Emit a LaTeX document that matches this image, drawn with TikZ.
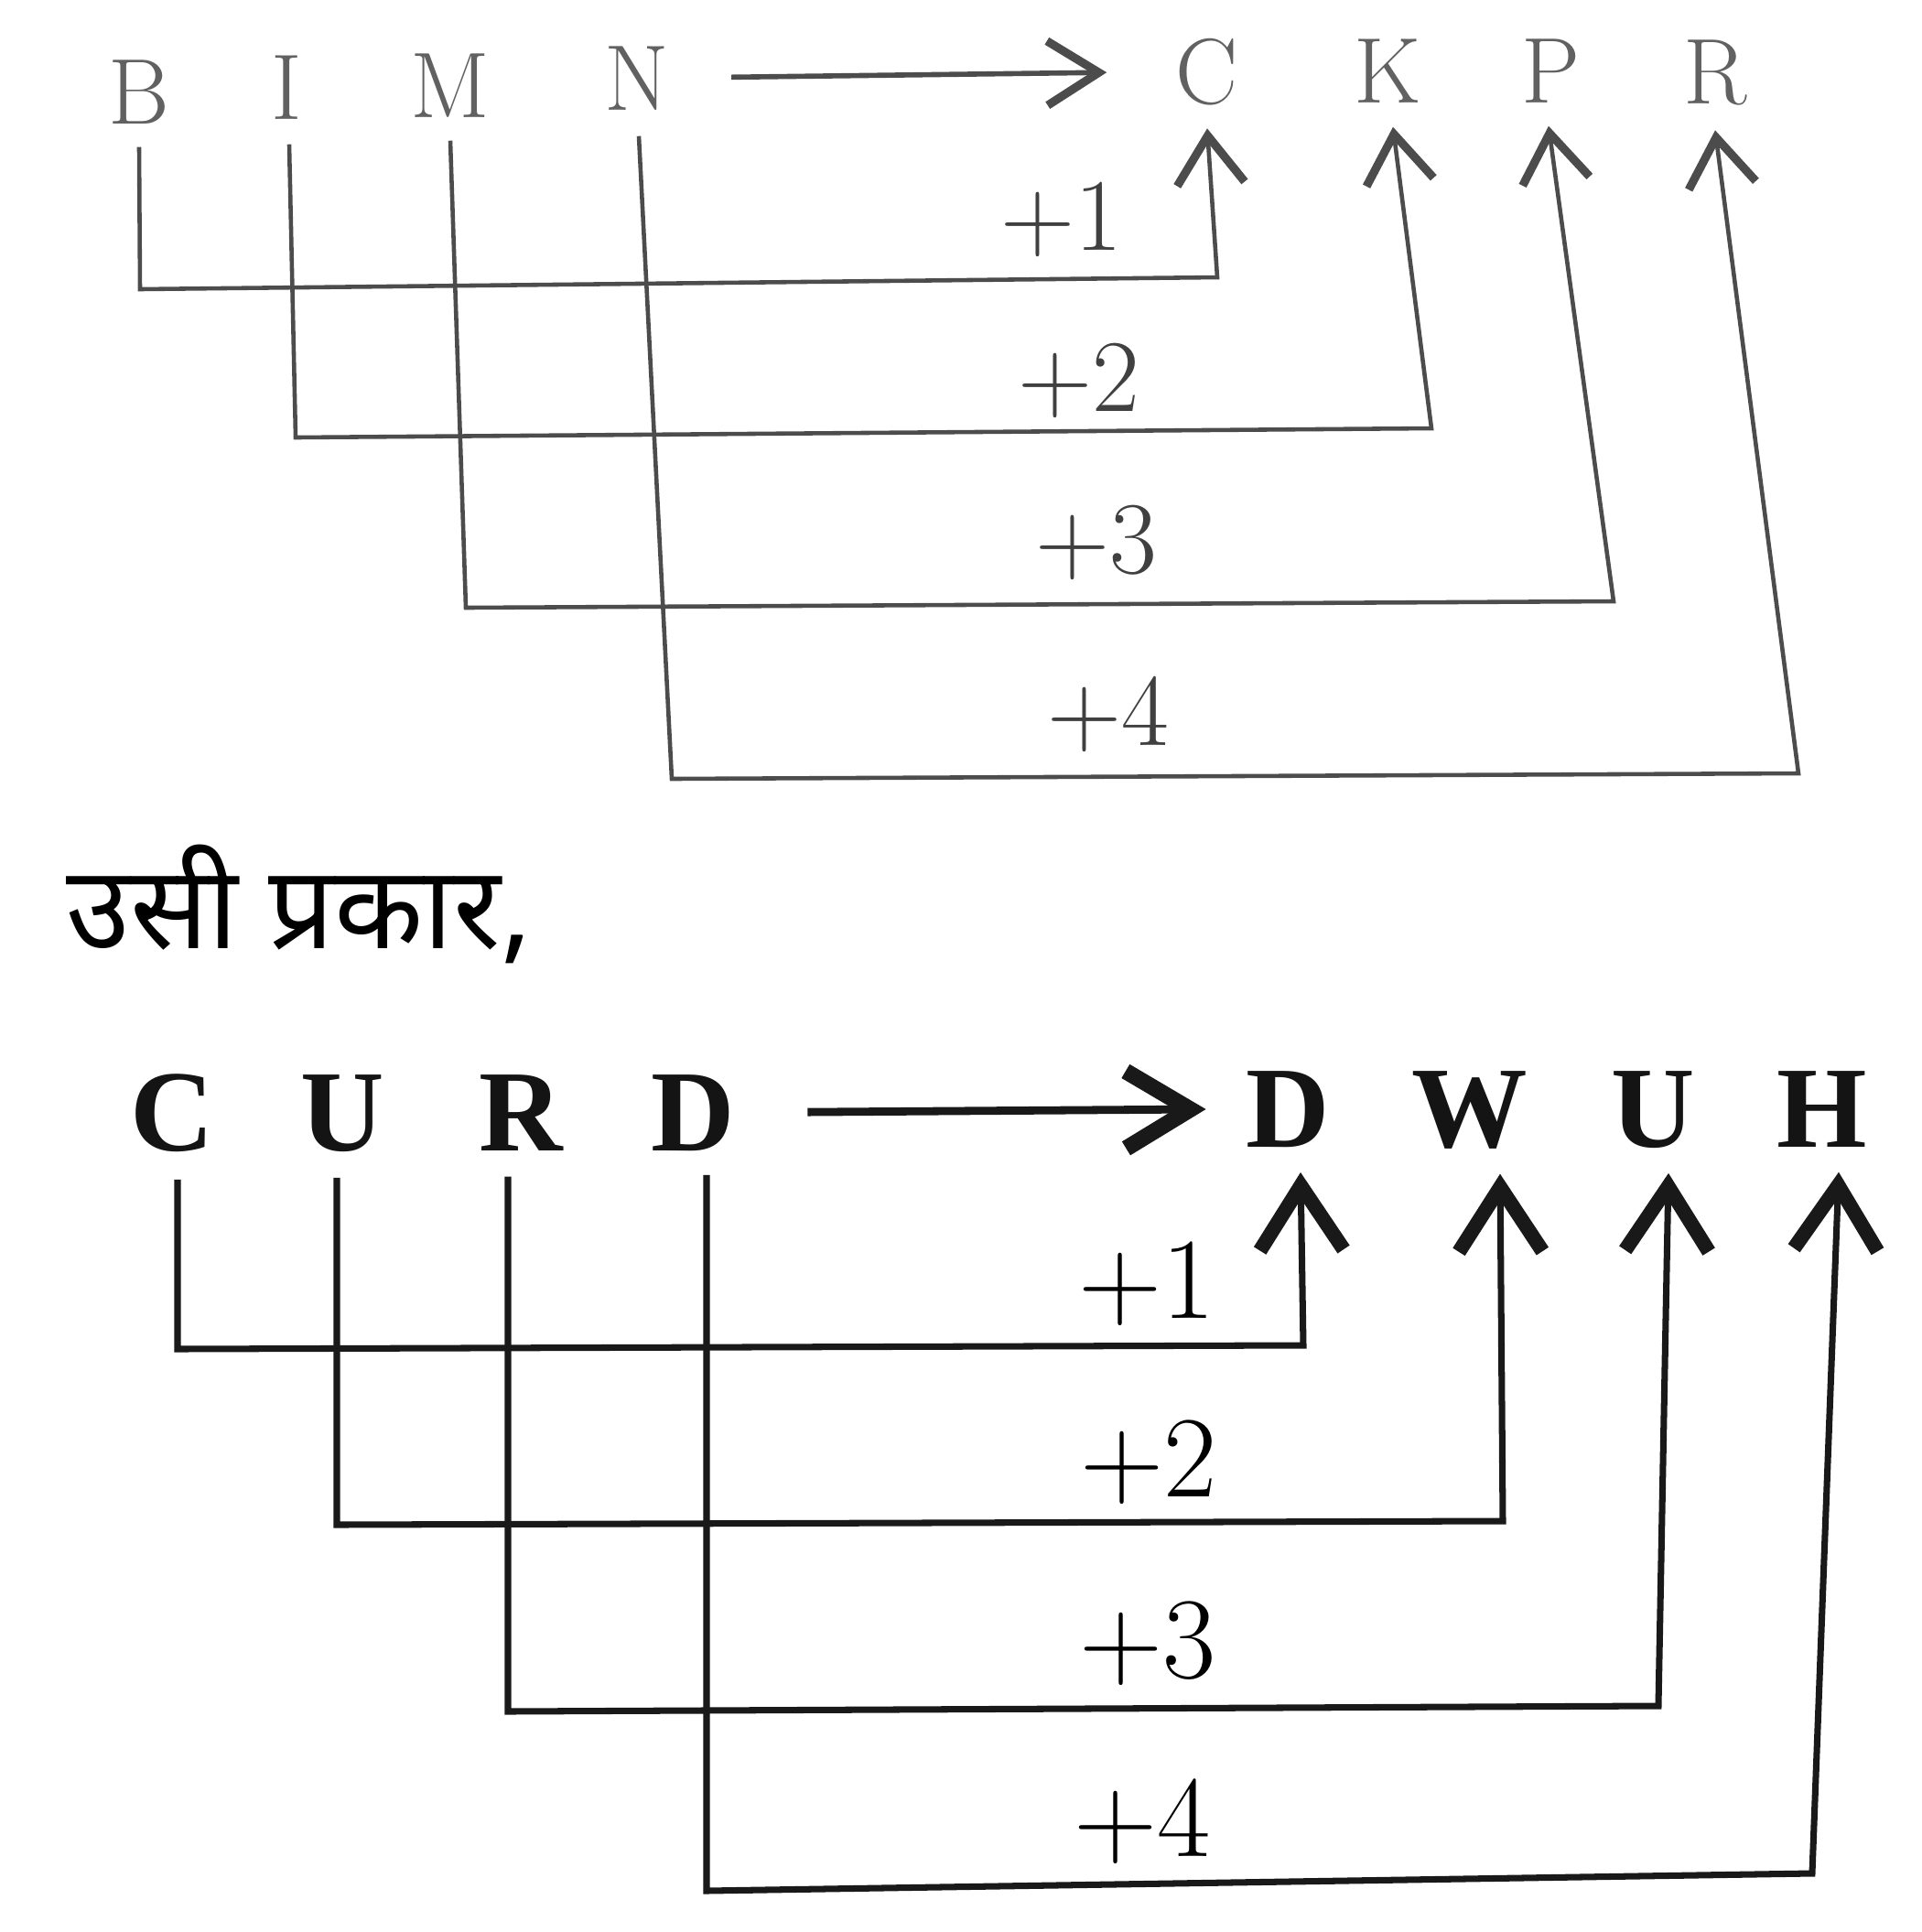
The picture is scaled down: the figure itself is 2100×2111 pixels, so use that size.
\documentclass[tikz,border=0pt]{standalone}
\usepackage{fontspec}
\newfontfamily\libserif{Liberation Serif}
\newfontfamily\hindifont[Script=Devanagari]{Noto Sans}
\usetikzlibrary{arrows.meta}
\begin{document}
\begin{tikzpicture}[x=0.01cm,y=-0.01cm,
  toplet/.style={anchor=base,inner sep=0pt,text=black!62,font=\fontsize{29}{35}\selectfont},
  botlet/.style={anchor=base,inner sep=0pt,text=black!92,font=\libserif\bfseries\fontsize{36}{42}\selectfont},
  toplab/.style={anchor=base,inner sep=0pt,text=black!75,font=\fontsize{32}{38}\selectfont},
  botlab/.style={anchor=base,inner sep=0pt,text=black,font=\fontsize{36}{42}\selectfont},
  topconn/.style={draw=black!70,line width=1.3pt,-{Straight Barb[length=15pt,width=21pt,line width=2.6pt]}},
  toparrow/.style={draw=black!70,line width=1.6pt,-{Straight Barb[length=16pt,width=20pt,line width=2.6pt]}},
  botconn/.style={draw=black!90,line width=2pt,-{Straight Barb[length=20pt,width=26pt,line width=4.5pt]}},
  botarrow/.style={draw=black!90,line width=2.5pt,-{Straight Barb[length=20pt,width=24pt,line width=5pt]}}
]
\useasboundingbox[fill=white] (0,0) rectangle (2100,2111);

% ---------- top part ----------
\node[toplet] (B) at (152,135) {B};
\node[toplet] (I) at (313,130) {I};
\node[toplet] (M) at (492,128) {M};
\node[toplet] (N) at (696,120) {N};
\node[toplet] (C) at (1319,113) {C};
\node[toplet] (K) at (1516,112) {K};
\node[toplet] (P) at (1695,112) {P};
\node[toplet] (R) at (1874,113) {R};

\draw[toparrow,shorten <=0.67cm,shorten >=0.75cm] (N.east) -- (C.west);

\draw[topconn] ([yshift=-0.25cm]B.south) -- (153,316) -- (1330,303) -- ([yshift=-0.25cm]C.south);
\draw[topconn] ([xshift=0.03cm,yshift=-0.27cm]I.south) -- (323,478) -- (1564,468) -- ([xshift=0.06cm,yshift=-0.26cm]K.south);
\draw[topconn] ([yshift=-0.25cm]M.south) -- (509,664) -- (1763,657) -- ([xshift=-0.03cm,yshift=-0.25cm]P.south);
\draw[topconn] ([xshift=0.02cm,yshift=-0.28cm]N.south) -- (734,851) -- (1965,845) -- ([yshift=-0.27cm]R.south);

\node[toplab] (t1) at (1160,273) {+1};
\node[toplab] (t2) at (1179,449) {+2};
\node[toplab] (t3) at (1198,626) {+3};
\node[toplab] (t4) at (1211,814) {+4};

% ---------- middle text ----------
\node[anchor=base west,inner sep=0pt,font=\hindifont\bfseries\fontsize{36}{42}\selectfont] (hin) at (72,1036) {उसी प्रकार,};

% ---------- bottom part ----------
\node[botlet] (C1) at (188,1257) {C};
\node[botlet] (U1) at (374,1257) {U};
\node[botlet] (R1) at (569,1257) {R};
\node[botlet] (D1) at (757,1257) {D};
\node[botlet] (D2) at (1407,1253) {D};
\node[botlet] (W2) at (1606,1253) {W};
\node[botlet] (U2) at (1806,1253) {U};
\node[botlet] (H2) at (1991,1253) {H};

\draw[botarrow,shorten <=0.79cm,shorten >=0.43cm] (D1.east) -- (D2.west);

\draw[botconn] ([xshift=0.06cm,yshift=-0.30cm]C1.south) -- (194,1474) -- (1424,1470) -- ([xshift=0.14cm,yshift=-0.27cm]D2.south);
\draw[botconn] ([xshift=-0.06cm,yshift=-0.28cm]U1.south) -- (368,1666) -- (1642,1662) -- ([xshift=0.33cm,yshift=-0.27cm]W2.south);
\draw[botconn] ([xshift=-0.14cm,yshift=-0.28cm]R1.south) -- (555,1870) -- (1812,1864) -- ([xshift=0.17cm,yshift=-0.27cm]U2.south);
\draw[botconn] ([xshift=0.15cm,yshift=-0.26cm]D1.south) -- (772,2066) -- (1980,2047) -- ([xshift=0.18cm,yshift=-0.27cm]H2.south);

\node[botlab] (b1) at (1253,1440) {+1};
\node[botlab] (b2) at (1255,1635) {+2};
\node[botlab] (b3) at (1254,1833) {+3};
\node[botlab] (b4) at (1248,2028) {+4};
\end{tikzpicture}
\end{document}
